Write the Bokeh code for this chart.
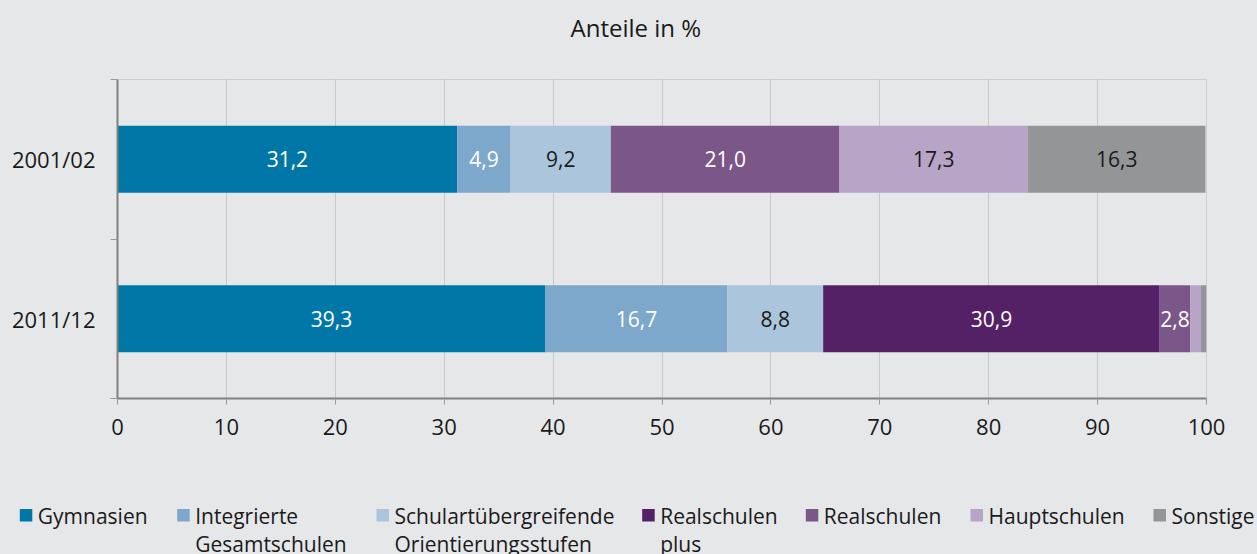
from bokeh.plotting import figure
from bokeh.models import ColumnDataSource, FixedTicker, Range1d
from bokeh.embed import file_html
from bokeh.resources import INLINE
from bokeh.core.properties import value

# ---- data ----
years = ["2011/12", "2001/02"]          # bottom -> top
year_pos = [1, 2]
legend_line1 = ["Gymnasien", "Integrierte", "Schulartübergreifende", "Realschulen",
                "Realschulen", "Hauptschulen", "Sonstige"]
legend_line2 = ["", "Gesamtschulen", "Orientierungsstufen", "plus", "", "", ""]
gymnasien = [39.3, 31.2]
integrierte = [16.7, 4.9]
schulart = [8.8, 9.2]
realschulen_plus = [30.9, 0.0]
realschulen = [2.8, 21.0]
hauptschulen = [1.0, 17.3]
sonstige = [0.5, 16.3]
x_ticks = [0, 10, 20, 30, 40, 50, 60, 70, 80, 90, 100]
title_text = "Anteile in %"

# ---- styles / layout ----
series_values = [gymnasien, integrierte, schulart, realschulen_plus, realschulen, hauptschulen, sonstige]
colors = ["#0077A7", "#7DA8CB", "#ABC5DC", "#542166", "#7B5689", "#B7A4C6", "#949597"]
label_colors = ["#ffffff", "#ffffff", "#1a1a1a", "#ffffff", "#ffffff", "#1a1a1a", "#1a1a1a"]
LEGEND_X = [19.3, 176.7, 376.0, 641.7, 805.3, 970.0, 1153.0]   # left edge of legend squares (px)
SWATCH = 12.5
TEXT_GAP = 5.5

BG = "#E6E7E9"
FONT = "Open Sans"
TXT = "#1a1a1a"
W = 1257
TOP_H = 79
MAIN_H = 401
LEG_H = 74


def blank_fig(h):
    f = figure(width=W, height=h, output_backend="svg", toolbar_location=None, title=None,
               x_range=Range1d(0, W), y_range=Range1d(0, h),
               min_border_left=0, min_border_right=0, min_border_top=0, min_border_bottom=0,
               x_axis_type=None, y_axis_type=None)
    f.background_fill_color = BG
    f.border_fill_color = BG
    f.outline_line_color = None
    f.grid.visible = False
    return f


# ---- title strip (y measured from its bottom edge) ----
t = blank_fig(TOP_H)
t.text(x=[635.3], y=[TOP_H - 26.7], text=[title_text], text_align="center", text_baseline="middle",
       text_font=value(FONT), text_font_size="24px", text_color=TXT)

# ---- main chart ----
p = figure(width=W, height=MAIN_H, output_backend="svg", toolbar_location=None, title=None,
           x_range=Range1d(0, 100), y_range=Range1d(0.5, 2.5),
           min_border_left=117, min_border_right=51, min_border_top=0, min_border_bottom=82)
p.background_fill_color = BG
p.border_fill_color = BG
p.outline_line_color = "#CFCFCF"
p.outline_line_width = 1

lbl_x, lbl_y, lbl_t, lbl_c = [], [], [], []
cum = [0.0] * len(years)
for vals, col, lc in zip(series_values, colors, label_colors):
    left = list(cum)
    right = [a + b for a, b in zip(cum, vals)]
    src = ColumnDataSource(dict(y=year_pos, left=left, right=right))
    p.hbar(y="y", left="left", right="right", height=0.42, source=src,
           fill_color=col, line_color=None)
    for i, v in enumerate(vals):
        if v >= 2:
            lbl_x.append((left[i] + right[i]) / 2)
            lbl_y.append(year_pos[i])
            lbl_t.append(f"{v:.1f}".replace(".", ","))
            lbl_c.append(lc)
    cum = right

lsrc = ColumnDataSource(dict(x=lbl_x, y=lbl_y, t=lbl_t, c=lbl_c))
p.text(x="x", y="y", text="t", source=lsrc, text_color="c", text_align="center",
       text_baseline="middle", text_font=value(FONT), text_font_size="21px")

p.xaxis.ticker = FixedTicker(ticks=x_ticks)
p.xaxis.axis_line_color = "#808080"
p.xaxis.axis_line_width = 2
p.xaxis.major_tick_line_color = "#999999"
p.xaxis.major_tick_out = 6
p.xaxis.major_tick_in = 0
p.xaxis.minor_tick_line_color = None
p.xaxis.major_label_standoff = 14
p.xaxis.major_label_text_font = FONT
p.xaxis.major_label_text_font_size = "22px"
p.xaxis.major_label_text_color = TXT

p.yaxis.ticker = FixedTicker(ticks=year_pos, minor_ticks=[0.5, 1.5, 2.5])
p.yaxis.major_label_overrides = {pos: y for pos, y in zip(year_pos, years)}
p.yaxis.axis_line_color = "#808080"
p.yaxis.axis_line_width = 2
p.yaxis.major_tick_out = 0
p.yaxis.major_tick_in = 0
p.yaxis.minor_tick_out = 7
p.yaxis.minor_tick_in = 0
p.yaxis.minor_tick_line_color = "#999999"
p.yaxis.major_label_standoff = 15
p.yaxis.major_label_text_font = FONT
p.yaxis.major_label_text_font_size = "22px"
p.yaxis.major_label_text_color = TXT

p.xgrid.ticker = FixedTicker(ticks=x_ticks)
p.xgrid.grid_line_color = "#C9C9C9"
p.ygrid.grid_line_color = None

# ---- legend strip (y measured from its bottom edge = page bottom 554) ----
PAGE_H = TOP_H + MAIN_H + LEG_H
q = blank_fig(LEG_H)
n = len(LEGEND_X)
q.quad(left=LEGEND_X, right=[x + SWATCH for x in LEGEND_X],
       bottom=[PAGE_H - 521] * n, top=[PAGE_H - 508.5] * n,
       fill_color=colors, line_color=None)
text_x = [x + SWATCH + TEXT_GAP for x in LEGEND_X]
q.text(x=text_x, y=[PAGE_H - 515] * n, text=legend_line1, text_align="left",
       text_baseline="middle", text_font=value(FONT), text_font_size="21px", text_color=TXT)
q.text(x=text_x, y=[PAGE_H - 543] * n, text=legend_line2, text_align="left",
       text_baseline="middle", text_font=value(FONT), text_font_size="21px", text_color=TXT)

html = file_html([t, p, q], INLINE)
html = html.replace(
    "<head>",
    "<head><style>html,body{margin:0;padding:0;background:#E6E7E9;overflow:hidden}"
    "body{display:flex;flex-direction:column;align-items:flex-start}</style>", 1)
open("out.html", "w").write(html)
